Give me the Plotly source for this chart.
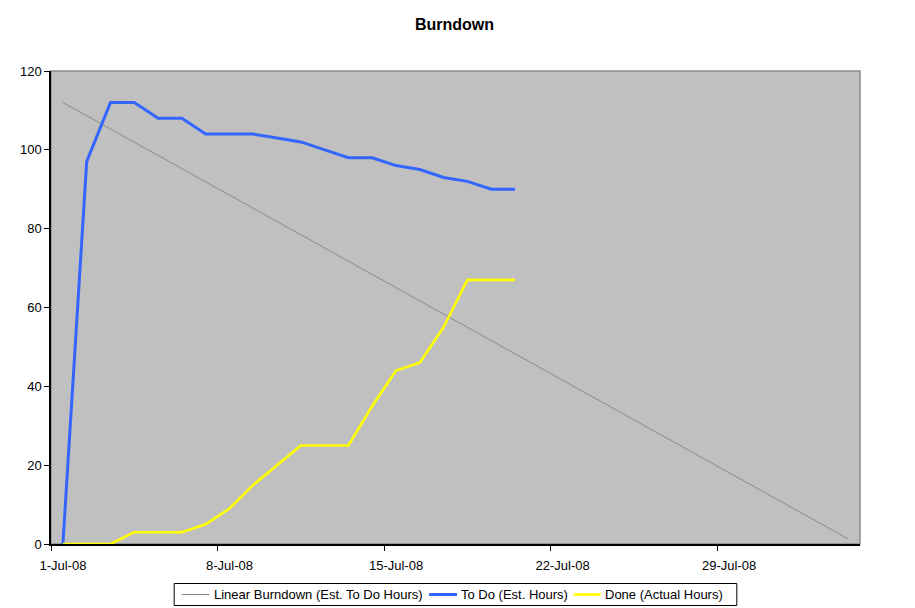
import pandas as pd
import plotly.graph_objects as go

# ---- data ----
dates = ["2008-07-01", "2008-07-02", "2008-07-03", "2008-07-04", "2008-07-05",
         "2008-07-06", "2008-07-07", "2008-07-08", "2008-07-09", "2008-07-10",
         "2008-07-11", "2008-07-12", "2008-07-13", "2008-07-14", "2008-07-15",
         "2008-07-16", "2008-07-17", "2008-07-18", "2008-07-19", "2008-07-20"]
todo_hours = [0, 97, 112, 112, 108, 108, 104, 104, 104, 103,
              102, 100, 98, 98, 96, 95, 93, 92, 90, 90]
done_hours = [0, 0, 0, 3, 3, 3, 5, 9, 15, 20,
              25, 25, 25, 35, 44, 46, 55, 67, 67, 67]
linear_dates = ["2008-07-01", "2008-08-03"]
linear_hours = [112, 1.3]
tick_dates = ["2008-07-01", "2008-07-08", "2008-07-15", "2008-07-22", "2008-07-29"]
tick_labels = ["1-Jul-08", "8-Jul-08", "15-Jul-08", "22-Jul-08", "29-Jul-08"]
series_names = ["Linear Burndown (Est. To Do Hours)", "To Do (Est. Hours)", "Done (Actual Hours)"]
series_colors = ["#8a8a8a", "#3366ff", "#ffff00"]
series_widths = [1, 3, 2.6]

# points (and date labels) sit in the middle of each day, ticks on day boundaries
def mid(d):
    return pd.to_datetime(d) + pd.Timedelta(hours=12)

# page has an 8px body margin
OFF = 8
W, H = 915 - OFF, 608 - OFF
L, R, T, B = 49 - OFF, 860 - OFF, 71 - OFF, 544 - OFF

fig = go.Figure()
xs = [mid(linear_dates), mid(dates), mid(dates)]
ys = [linear_hours, todo_hours, done_hours]
for x, y, n, c, w in zip(xs, ys, series_names, series_colors, series_widths):
    fig.add_trace(go.Scatter(x=x, y=y, mode="lines", name=n, showlegend=False,
                             line=dict(color=c, width=w)))

def px_x(p):
    return (p - OFF - L) / (R - L)

def px_y(p):
    return (B - (p - OFF)) / (B - T)

shapes = [
    dict(type="rect", xref="paper", yref="paper", x0=0, x1=1, y0=0, y1=1,
         line=dict(color="#8c8c8c", width=1.5), layer="below"),
    # legend box
    dict(type="rect", xref="paper", yref="paper", x0=px_x(172.5), x1=px_x(736.5),
         y0=px_y(605.5), y1=px_y(583.5), line=dict(color="black", width=1),
         fillcolor="white"),
]
annotations = []
leg_y = 594.5
line_x = [(180, 208), (428, 456), (573, 600)]
text_x = [210, 458, 602]
for (a, b), tx, n, c, w in zip(line_x, text_x, series_names, series_colors, series_widths):
    shapes.append(dict(type="line", xref="paper", yref="paper", x0=px_x(a), x1=px_x(b),
                       y0=px_y(leg_y), y1=px_y(leg_y), line=dict(color=c, width=w)))
    annotations.append(dict(text=n, xref="paper", yref="paper", x=px_x(tx), y=px_y(leg_y),
                            xanchor="left", yanchor="middle", showarrow=False,
                            font=dict(size=13, color="black")))

fig.update_layout(
    width=W, height=H,
    margin=dict(l=L, r=W - R, t=T, b=H - B, pad=0),
    paper_bgcolor="white",
    plot_bgcolor="#c0c0c0",
    font=dict(family="Liberation Sans, Arial, sans-serif", size=13, color="black"),
    title=dict(text="<b>Burndown</b>", x=(L + R) / 2 / W, xanchor="center",
               y=1 - (24 - OFF) / H, yanchor="middle", yref="container",
               font=dict(size=16, color="black")),
    showlegend=False,
    shapes=shapes,
    annotations=annotations,
)
fig.update_xaxes(type="date",
                 range=[pd.Timestamp("2008-07-01"), pd.Timestamp("2008-08-04")],
                 tickmode="array", tickvals=mid(tick_dates), ticktext=tick_labels,
                 ticks="", ticklabelstandoff=9,
                 minor=dict(tickmode="array", tickvals=pd.to_datetime(tick_dates),
                            ticks="outside", ticklen=5, tickcolor="black", tickwidth=1,
                            showgrid=False),
                 showline=True, linecolor="black", linewidth=1.5,
                 showgrid=False, zeroline=False, fixedrange=True)
fig.update_yaxes(range=[0, 120], tickmode="linear", tick0=0, dtick=20,
                 ticks="outside", ticklen=5, tickcolor="black", tickwidth=1,
                 showline=True, linecolor="black", linewidth=1.5,
                 showgrid=False, zeroline=False, fixedrange=True)

fig.write_html("out.html")
